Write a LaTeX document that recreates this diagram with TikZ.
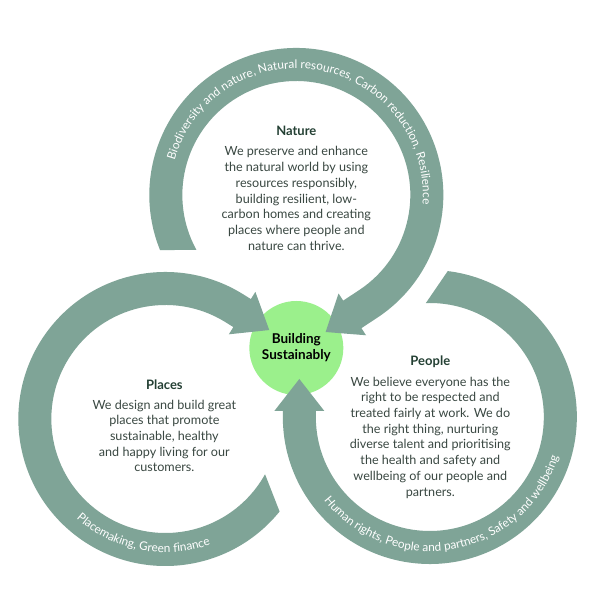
\documentclass[tikz,border=0pt]{standalone}
\usepackage{fontspec}
\setmainfont{Lato}
\usetikzlibrary{calc,decorations.text}

\definecolor{ringgreen}{RGB}{127,164,151}
\definecolor{hubgreen}{RGB}{155,240,140}
\definecolor{titlegreen}{RGB}{36,64,52}
\definecolor{bodygrey}{RGB}{58,72,66}

\newcommand{\ringout}{147}
\newcommand{\ringin}{114}
\newcommand{\ringmid}{130.5}
\newcommand{\ringfont}{\fontsize{11.8}{11.8}\selectfont}

% #1 name, #2/#3 centre, #4/#5 outer/inner tail angle, #6 end angle, #7 straight run before the head
\newcommand{\ringarrow}[7]{%
  \coordinate (#1-c) at (#2,#3);
  \path (#1-c) ++(#6:\ringmid) ++(#6-90:#7) coordinate (#1-b);
  \fill[ring] (#1-c) ++(#4:\ringout) arc[start angle=#4, end angle=#6, radius=\ringout]
    -- ($(#1-b)+(#6:16.5)$) -- ($(#1-b)+(#6:25)$) -- ($(#1-b)+(#6-90:32)$)
    -- ($(#1-b)+(#6:-25)$) -- ($(#1-b)+(#6:-16.5)$)
    -- ($(#1-c)+(#6:\ringin)$) arc[start angle=#6, end angle=#5, radius=\ringin] -- cycle;
}

% #1 centre, #2/#3 start/end angle, #4 radius, #5 text
\newcommand{\ringlabel}[5]{%
  \path[decorate, decoration={text along path, text align=center,
    text color=white, text={|\ringfont|#5}}] (#1) ++(#2:#4) arc[start angle=#2, end angle=#3, radius=#4];
}

\begin{document}
\begin{tikzpicture}[x=1pt, y=1pt,
    ring/.style={fill=ringgreen},
    hub/.style={circle, fill=hubgreen, minimum size=94pt, inner sep=0pt, align=center,
      font=\bfseries\fontsize{13.5}{16}\selectfont},
    heading/.style={anchor=base, text=titlegreen, font=\bfseries\fontsize{13}{14}\selectfont},
    blurb/.style={anchor=north, inner sep=0pt, align=center, text=bodygrey,
      font=\fontsize{12.6}{15.7}\selectfont}]

    \fill[white] (0,0) rectangle (587,612);

    \node (hub) [hub] at (295,264) {Building\\Sustainably};

    % the three rings
    \ringarrow{nature}{295}{417}{202}{208.8}{-56.6}{19}
    \ringarrow{places}{164}{193}{321}{331}{58}{9}
    \ringarrow{people}{428.5}{195}{83}{92}{-180}{6}

    \ringlabel{nature-c}{175}{-15}{126.5}{Biodiversity and nature, Natural resources, Carbon reduction, Resilience}
    \ringlabel{places-c}{215}{303}{133.5}{Placemaking, Green finance}
    \ringlabel{people-c}{200}{361}{134.5}{Human rights, People and partners, Safety and wellbeing}

    % texts inside the rings
    \node (naturehead) [heading] at (295,476.5) {Nature};
    \node (natureblurb) [blurb] at (295,465.5) {We preserve and enhance\\the natural world by using\\resources responsibly,\\building resilient, low-\\carbon homes and creating\\places where people and\\nature can thrive.};

    \node (placeshead) [heading] at (163,222.5) {Places};
    \node (placesblurb) [blurb] at (163,212.3) {We design and build great\\places that promote\\sustainable, healthy\\and happy living for our\\customers.};

    \node (peoplehead) [heading] at (429,246.5) {People};
    \node (peopleblurb) [blurb] at (429,235.3) {We believe everyone has the\\right to be respected and\\treated fairly at work. We do\\the right thing, nurturing\\diverse talent and prioritising\\the health and safety and\\wellbeing of our people and\\partners.};

\end{tikzpicture}
\end{document}
